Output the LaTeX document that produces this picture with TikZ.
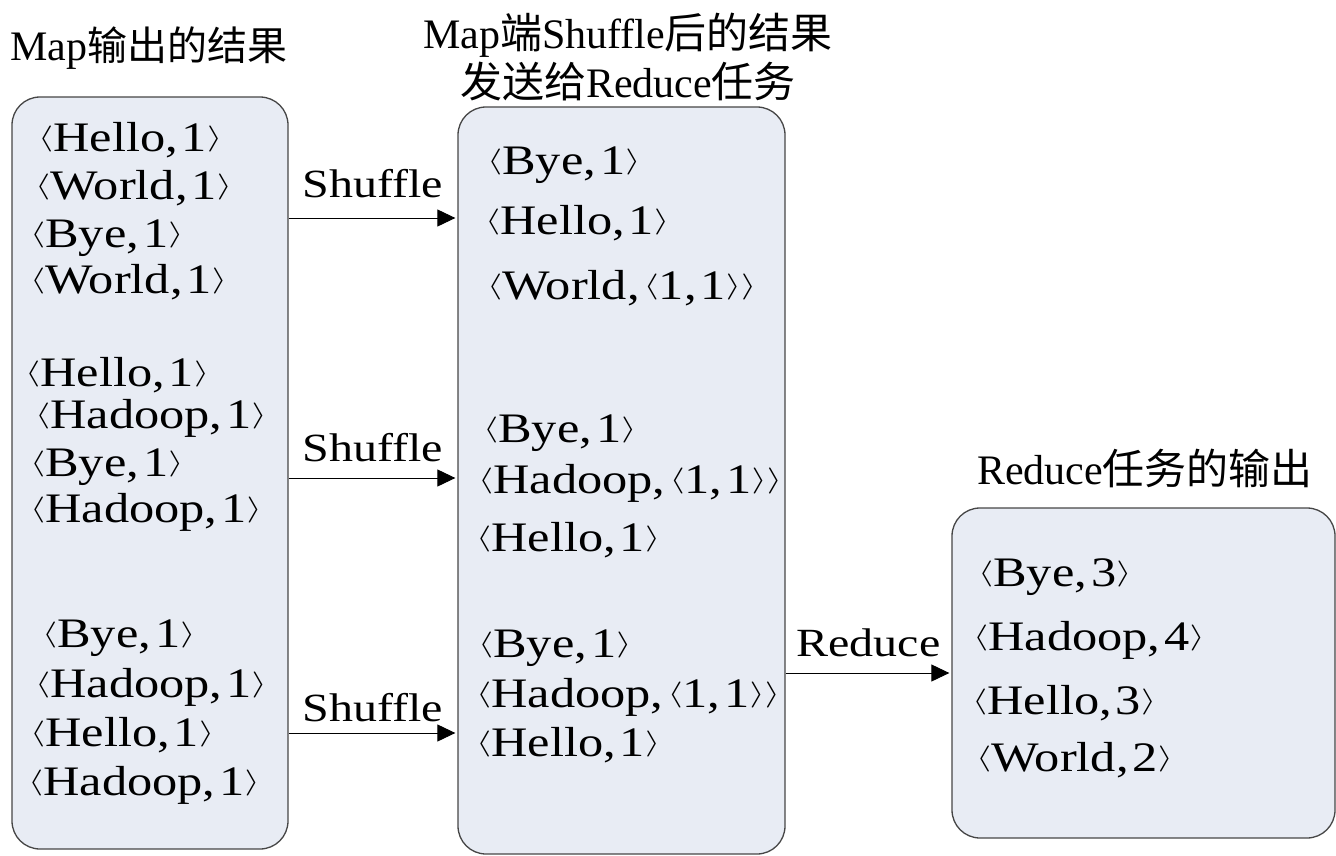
\RequirePackage{fix-cm}
\documentclass[tikz,border=0pt]{standalone}
\usepackage{fontspec}
\usepackage{graphicx}
\setmainfont{Liberation Serif}[FakeStretch=1.2]
\newfontfamily\plainserif{Liberation Serif}
\newfontfamily\cjk{Noto Sans CJK SC}
\usetikzlibrary{arrows.meta}
\definecolor{boxfill}{RGB}{232,236,244}
\definecolor{boxline}{RGB}{70,70,70}
\newcommand\lb{\raisebox{6pt}{\fontsize{26}{26}\selectfont\scalebox{1.5}[1]{$\langle$}}}
\newcommand\rb{\raisebox{6pt}{\fontsize{26}{26}\selectfont\scalebox{1.5}[1]{$\rangle$}}}
\newcommand\cma{,\kern4pt}
\newcommand\zh[1]{{\cjk\fontsize{40}{46}\selectfont #1}}
\newcommand\zhs[1]{{\cjk\fontsize{42}{46}\selectfont #1}}
\begin{document}
\begin{tikzpicture}[x=1pt,y=-1pt,
  box/.style={draw=boxline, fill=boxfill, line width=1.3pt, rounded corners=28pt, inner sep=0pt},
  item/.style={anchor=west, inner sep=0pt, font=\fontsize{42}{48}\selectfont},
  lbl/.style={font=\fontsize{40}{46}\selectfont, inner sep=0pt},
  ttl/.style={font=\plainserif\fontsize{42}{46}\selectfont, inner sep=0pt, align=center},
  arr/.style={-{Triangle[length=18pt,width=17pt]}, line width=1pt, shorten >=2pt}]
\useasboundingbox (0,0) rectangle (1336,856);

% boxes
\node[box, minimum width=276pt, minimum height=752pt] (m) at (150,473) {};
\node[box, minimum width=327pt, minimum height=747pt] (s) at (621.5,480.5) {};
\node[box, minimum width=383pt, minimum height=330pt] (r) at (1143.5,673) {};

% titles
\node[ttl] (t1) at (149,48) {Map\zh{输出的结果}};
\node[ttl] (t2a) at (628,35) {Map\zhs{端}Shuffle\zhs{后的结果}};
\node[ttl] (t2b) at (628,82) {\zhs{发送给}Reduce\zhs{任务}};
\node[ttl] (t3) at (1145,468) {Reduce\zhs{任务的输出}};

% map output
\node[item] (a1) at (38,140) {\lb Hello\cma 1\rb};
\node[item] (a2) at (35,188) {\lb World\cma 1\rb};
\node[item] (a3) at (30,238) {\lb Bye\cma 1\rb};
\node[item] (a4) at (30,282) {\lb World\cma 1\rb};
\node[item] (b1) at (25,375) {\lb Hello\cma 1\rb};
\node[item] (b2) at (35,418) {\lb Hadoop\cma 1\rb};
\node[item] (b3) at (30,467) {\lb Bye\cma 1\rb};
\node[item] (b4) at (30,512) {\lb Hadoop\cma 1\rb};
\node[item] (c1) at (42,638) {\lb Bye\cma 1\rb};
\node[item] (c2) at (35,687) {\lb Hadoop\cma 1\rb};
\node[item] (c3) at (30,735) {\lb Hello\cma 1\rb};
\node[item] (c4) at (28,785) {\lb Hadoop\cma 1\rb};

% shuffle results
\node[item] (d1) at (487,165) {\lb Bye\cma 1\rb};
\node[item] (d2) at (485,223) {\lb Hello\cma 1\rb};
\node[item] (d3) at (487,288) {\lb World\cma\lb 1\cma 1\rb\rb};
\node[item] (e1) at (483,433) {\lb Bye\cma 1\rb};
\node[item] (e2) at (478,483) {\lb Hadoop\cma\lb 1\cma 1\rb\rb};
\node[item] (e3) at (476,540) {\lb Hello\cma 1\rb};
\node[item] (f1) at (478,648) {\lb Bye\cma 1\rb};
\node[item] (f2) at (476,697) {\lb Hadoop\cma\lb 1\cma 1\rb\rb};
\node[item] (f3) at (476,745) {\lb Hello\cma 1\rb};

% reduce output
\node[item] (g1) at (978,577) {\lb Bye\cma 3\rb};
\node[item] (g2) at (973,640) {\lb Hadoop\cma 4\rb};
\node[item] (g3) at (972,703) {\lb Hello\cma 3\rb};
\node[item] (g4) at (976,760) {\lb World\cma 2\rb};

% arrows
\draw[arr] (m.east |- 0,218) -- (s.west |- 0,218) node[midway, lbl, above=20pt] {Shuffle};
\draw[arr] (m.east |- 0,478) -- (s.west |- 0,478) node[midway, lbl, above=16pt] {Shuffle};
\draw[arr] (m.east |- 0,733) -- (s.west |- 0,733) node[midway, lbl, above=11pt] {Shuffle};
\draw[arr] (s.east |- 0,673) -- (r.west |- 0,673) node[midway, lbl, above=16pt] {Reduce};
\end{tikzpicture}
\end{document}
